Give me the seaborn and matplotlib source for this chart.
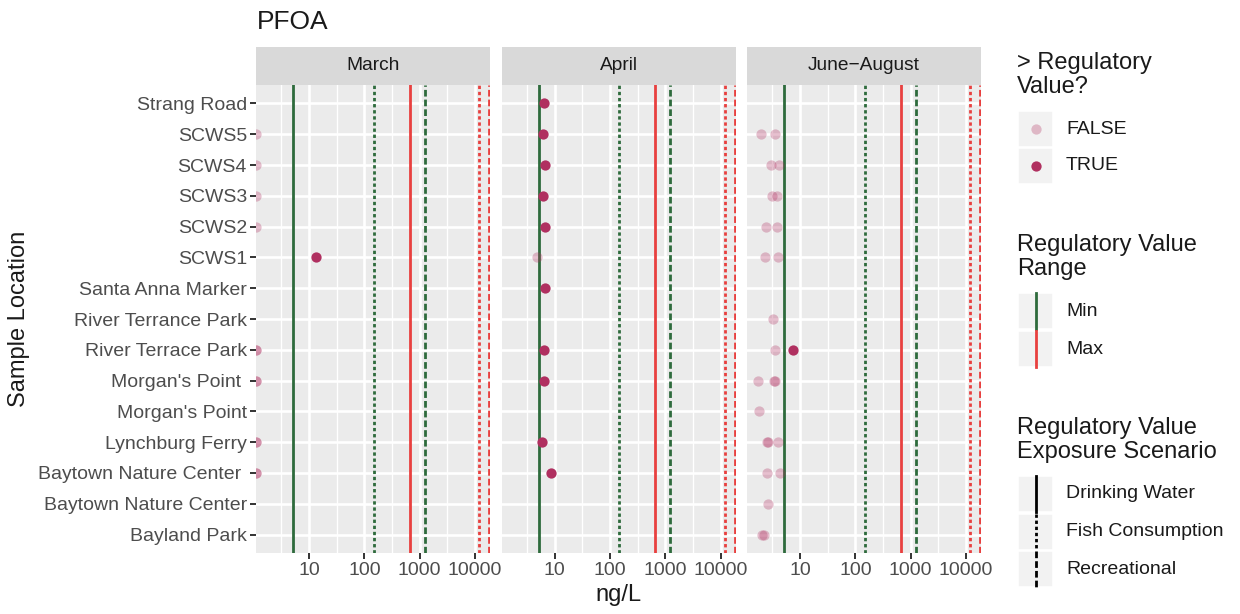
import numpy as np
import pandas as pd
import matplotlib
matplotlib.use("Agg")
import matplotlib.pyplot as plt
from matplotlib.patches import Rectangle
from matplotlib.lines import Line2D
from matplotlib.ticker import FixedLocator, NullFormatter
import seaborn as sns

# ---------------------------------------------------------------- data
locations = ["Strang Road", "SCWS5", "SCWS4", "SCWS3", "SCWS2", "SCWS1",
             "Santa Anna Marker", "River Terrance Park", "River Terrace Park",
             "Morgan's Point ", "Morgan's Point", "Lynchburg Ferry",
             "Baytown Nature Center ", "Baytown Nature Center", "Bayland Park"]

months = ["March", "April", "June\u2212August"]

# 0 = below detection (drawn at the left edge of the log axis)
march_site = ["SCWS5", "SCWS4", "SCWS3", "SCWS2", "SCWS1",
              "River Terrace Park", "River Terrace Park",
              "Morgan's Point ", "Morgan's Point ",
              "Lynchburg Ferry", "Lynchburg Ferry",
              "Baytown Nature Center ", "Baytown Nature Center "]
march_ngl = [0, 0, 0, 0, 13.6, 0, 0, 0, 0, 0, 0, 0, 0]

april_site = ["Strang Road", "SCWS5", "SCWS4", "SCWS3", "SCWS2", "SCWS1",
              "Santa Anna Marker", "River Terrace Park", "Morgan's Point ",
              "Lynchburg Ferry", "Baytown Nature Center "]
april_ngl = [6.4, 6.2, 6.8, 6.1, 6.8, 4.7, 6.7, 6.3, 6.4, 6.0, 8.7]

summer_site = ["SCWS5", "SCWS5", "SCWS4", "SCWS4", "SCWS3", "SCWS3",
               "SCWS2", "SCWS2", "SCWS1", "SCWS1",
               "River Terrance Park", "River Terrace Park", "River Terrace Park",
               "Morgan's Point ", "Morgan's Point ", "Morgan's Point ",
               "Morgan's Point",
               "Lynchburg Ferry", "Lynchburg Ferry", "Lynchburg Ferry",
               "Baytown Nature Center ", "Baytown Nature Center ",
               "Baytown Nature Center", "Bayland Park", "Bayland Park"]
summer_ngl = [1.93, 3.56, 2.97, 4.10, 3.13, 3.77, 2.38, 3.87, 2.31, 3.93,
              3.27, 3.47, 7.36, 1.72, 3.45, 3.55, 1.85, 2.55, 2.62, 4.03,
              2.51, 4.38, 2.66, 2.05, 2.20]

scenarios = ["Drinking Water", "Fish Consumption", "Recreational"]
reg_min = [5.1, 147, 1230]
reg_max = [660, 11800, 18000]

xtick_values = [10, 100, 1000, 10000]
xtick_labels = ["10", "100", "1000", "10000"]

# ---------------------------------------------------------------- style
plt.rcParams["font.family"] = ["Liberation Sans", "DejaVu Sans"]
plt.rcParams["lines.scale_dashes"] = False

GREEN = "#2E6B3C"
RED = "#E8403F"
MAROON = "#B03060"
PANEL_BG = "#EBEBEB"
STRIP_BG = "#D9D9D9"
TICK_TXT = "#4D4D4D"
LINE_W = 2.0
dash_styles = {"Drinking Water": "-",
               "Fish Consumption": (0, (2.4, 2.0)),
               "Recreational": (0, (4.8, 2.2))}

axis_lo, axis_hi = 1.1, 18700

W, H = 1240, 614
fig = plt.figure(figsize=(W / 100, H / 100), dpi=100)


def frac(x0, y0, w, h):
    """pixel box (top-left origin) -> figure fraction rect"""
    return [x0 / W, 1 - (y0 + h) / H, w / W, h / H]


panel_lefts = [256, 501.7, 747]
panel_w = 234
panel_top, panel_bot = 85, 553
strip_top = 47

frames = []
for m, site, vals in zip(months, [march_site, april_site, summer_site],
                         [march_ngl, april_ngl, summer_ngl]):
    d = pd.DataFrame({"site": site, "ngl": vals})
    d["exceeds"] = d["ngl"] > reg_min[0]
    d["x"] = np.where(d["ngl"] > 0, d["ngl"], axis_lo)
    d["month"] = m
    frames.append(d)

minor_grid = [10 ** (k + 0.5) for k in range(0, 5)]

for i, (m, d) in enumerate(zip(months, frames)):
    ax = fig.add_axes(frac(panel_lefts[i], panel_top, panel_w,
                           panel_bot - panel_top))
    ax.set_facecolor(PANEL_BG)
    ax.set_xscale("log")

    for sc, lo, hi in zip(scenarios, reg_min, reg_max):
        ax.axvline(lo, color=GREEN, lw=LINE_W, ls=dash_styles[sc], zorder=1.5)
        ax.axvline(hi, color=RED, lw=LINE_W, ls=dash_styles[sc], zorder=1.5)

    low = d[~d["exceeds"]]
    high = d[d["exceeds"]]
    sns.stripplot(data=low, x="x", y="site", order=locations, orient="h",
                  jitter=False, color=MAROON, alpha=0.3, size=7.4,
                  linewidth=0, ax=ax, zorder=3)
    sns.stripplot(data=high, x="x", y="site", order=locations, orient="h",
                  jitter=False, color=MAROON, alpha=1.0, size=7.4,
                  linewidth=0, ax=ax, zorder=3)

    ax.set_xlim(axis_lo, axis_hi)
    ax.set_ylim(len(locations) - 0.4, -0.6)
    ax.xaxis.set_major_locator(FixedLocator(xtick_values))
    ax.set_xticklabels(xtick_labels)
    ax.xaxis.set_minor_locator(FixedLocator(minor_grid))
    ax.xaxis.set_minor_formatter(NullFormatter())
    ax.set_xlabel("")
    ax.set_ylabel("")

    ax.set_axisbelow(True)
    ax.grid(True, which="major", axis="both", color="white", lw=1.9)
    ax.grid(True, which="minor", axis="x", color="white", lw=1.0)
    for s in ax.spines.values():
        s.set_visible(False)

    ax.tick_params(axis="both", which="major", length=4.3, width=1.4,
                   color="#333333", labelcolor=TICK_TXT, labelsize=14,
                   pad=2.2)
    ax.tick_params(axis="x", which="minor", length=0)
    if i > 0:
        ax.tick_params(axis="y", length=0, labelleft=False)

    sax = fig.add_axes(frac(panel_lefts[i], strip_top, panel_w,
                            panel_top - strip_top))
    sax.set_facecolor(STRIP_BG)
    sax.set_xticks([])
    sax.set_yticks([])
    for s in sax.spines.values():
        s.set_visible(False)
    sax.text(0.5, 0.5, m, ha="center", va="center", fontsize=13.8,
             color="#1A1A1A", transform=sax.transAxes)

# titles
fig.text(257 / W, 1 - 29 / H, "PFOA", fontsize=19, ha="left",
         va="baseline", color="#1A1A1A")
fig.text((panel_lefts[0] + panel_lefts[2] + panel_w) / 2 / W, 1 - 595 / H,
         "ng/L", fontsize=17, ha="center", va="center", color="#1A1A1A")
fig.text(19 / W, 1 - 319 / H, "Sample Location", fontsize=17,
         rotation=90, ha="center", va="center", color="#1A1A1A")

# ---------------------------------------------------------------- legends
lax = fig.add_axes([0, 0, 1, 1])
lax.set_xlim(0, W)
lax.set_ylim(H, 0)
lax.axis("off")
lax.patch.set_alpha(0)

KEY_X, KEY_W, KEY_H = 1018, 35, 36
TXT_X = 1066
TITLE_X = 1017
kx = KEY_X + KEY_W / 2


def key_box(yc):
    lax.add_patch(Rectangle((KEY_X, yc - KEY_H / 2), KEY_W, KEY_H,
                            facecolor="#F2F2F2", edgecolor="white", lw=1.2))


def key_label(yc, text):
    lax.text(TXT_X, yc, text, fontsize=14, va="center", ha="left",
             color="#1A1A1A")


def legend_title(yc, text):
    lax.text(TITLE_X, yc, text, fontsize=17, va="center", ha="left",
             linespacing=1.15, color="#1A1A1A")


legend_title(75, "> Regulatory\nValue?")
for yc, lab, a in [(129, "FALSE", 0.3), (166, "TRUE", 1.0)]:
    key_box(yc)
    lax.scatter([kx], [yc], s=7.4 ** 2, color=MAROON, alpha=a, linewidths=0)
    key_label(yc, lab)

legend_title(257, "Regulatory Value\nRange")
for yc, lab, col in [(311, "Min", GREEN), (349, "Max", RED)]:
    key_box(yc)
    lax.add_line(Line2D([kx, kx], [yc - KEY_H / 2, yc + KEY_H / 2],
                        color=col, lw=LINE_W))
    key_label(yc, lab)

legend_title(440, "Regulatory Value\nExposure Scenario")
for yc, sc in zip([494, 532, 569], scenarios):
    key_box(yc)
    lax.add_line(Line2D([kx, kx], [yc - KEY_H / 2, yc + KEY_H / 2],
                        color="black", lw=LINE_W, ls=dash_styles[sc]))
    key_label(yc, sc)

fig.savefig("out.png", dpi=100)
